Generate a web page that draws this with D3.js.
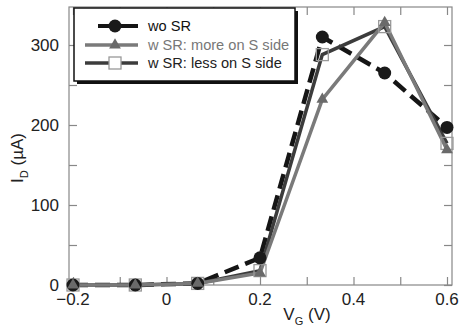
<!DOCTYPE html>
<html><head><meta charset="utf-8">
<script src="https://cdn.jsdelivr.net/npm/d3@7"></script>
<style>body{margin:0;background:#fff;}svg{display:block;font-family:"Liberation Sans",Arial,sans-serif;}</style>
</head><body><svg id="c" width="459" height="331"></svg>
<script>
const vg = [-0.2, -0.0667, 0.0667, 0.2, 0.3333, 0.4667, 0.6];
const woSR = [0, 0, 2, 34, 310, 265, 197];
const moreS = [0, 0, 2, 15, 232, 328, 169];
const lessS = [0, 0, 2, 18, 288, 323, 177];
const xTicks = [-0.2, -0.1, 0, 0.1, 0.2, 0.3, 0.4, 0.5, 0.6];
const xLabels = [-0.2, 0, 0.2, 0.4, 0.6];
const yTicks = [0, 50, 100, 150, 200, 250, 300];
const yLabels = [0, 100, 200, 300];
const legendNames = ["wo SR", "w SR: more on S side", "w SR: less on S side"];

const svg = d3.select("#c");
const L = 69, R = 452, T = 7, B = 285;
const x = d3.scaleLinear().domain([-0.20856, 0.6107]).range([L, R]);
const y = d3.scaleLinear().domain([0, 347.5]).range([B, T]);
const axisCol = "#888";

// frame
svg.append("rect").attr("x", L).attr("y", T).attr("width", R - L).attr("height", B - T)
  .attr("fill", "none").attr("stroke", axisCol).attr("stroke-width", 1.2);

// axes with inward ticks
const gB = svg.append("g").attr("transform", `translate(0,${B})`)
  .call(d3.axisTop(x).tickValues(xTicks).tickSize(8).tickFormat(""));
const gT = svg.append("g").attr("transform", `translate(0,${T})`)
  .call(d3.axisBottom(x).tickValues(xTicks).tickSize(8).tickFormat(""));
const gL = svg.append("g").attr("transform", `translate(${L},0)`)
  .call(d3.axisRight(y).tickValues(yTicks).tickSize(8).tickFormat(""));
const gR = svg.append("g").attr("transform", `translate(${R},0)`)
  .call(d3.axisLeft(y).tickValues(yTicks).tickSize(8).tickFormat(""));
[gB, gT, gL, gR].forEach(g => {
  g.select(".domain").remove();
  g.selectAll("line").attr("stroke", axisCol).attr("stroke-width", 1.2);
});

// tick labels
svg.append("g").selectAll("text").data(xLabels).join("text")
  .attr("x", d => x(d)).attr("y", 305).attr("text-anchor", "middle")
  .attr("font-size", 17).attr("fill", "#222").text(d => d === 0 ? "0" : d3.format(".1f")(d));
svg.append("g").selectAll("text").data(yLabels).join("text")
  .attr("x", 59).attr("y", d => y(d) + 6).attr("text-anchor", "end")
  .attr("font-size", 17).attr("fill", "#222").text(d => d);

// axis titles
const xt = svg.append("text").attr("x", 307).attr("y", 320).attr("text-anchor", "middle")
  .attr("font-size", 17).attr("fill", "#222");
xt.append("tspan").text("V");
xt.append("tspan").attr("font-size", 11).attr("dy", 5).text("G");
xt.append("tspan").attr("dy", -5).text(" (V)");
const yt = svg.append("text").attr("transform", "translate(23,158) rotate(-90)")
  .attr("text-anchor", "middle").attr("font-size", 17).attr("fill", "#222");
yt.append("tspan").text("I");
yt.append("tspan").attr("font-size", 11).attr("dy", 5).text("D");
yt.append("tspan").attr("dy", -5).text(" (\u00b5A)");

const line = d3.line().x((d, i) => x(vg[i])).y(d => y(d));
const plot = svg.append("g");

plot.append("path").datum(woSR).attr("d", line).attr("fill", "none")
  .attr("stroke", "#151515").attr("stroke-width", 4.5).attr("stroke-dasharray", "15,7");
plot.append("path").datum(lessS).attr("d", line).attr("fill", "none")
  .attr("stroke", "#3c3c3c").attr("stroke-width", 3.5);
plot.append("path").datum(moreS).attr("d", line).attr("fill", "none")
  .attr("stroke", "#7a7a7a").attr("stroke-width", 3.5);

const tri = d3.symbol().type(d3.symbolTriangle).size(60);
// markers
plot.append("g").selectAll("rect").data(lessS).join("rect")
  .attr("x", (d, i) => x(vg[i]) - 6).attr("y", d => y(d) - 6).attr("width", 12).attr("height", 12)
  .attr("fill", "none").attr("stroke", "#999").attr("stroke-width", 1.3);
plot.append("g").selectAll("circle").data(woSR).join("circle")
  .attr("cx", (d, i) => x(vg[i])).attr("cy", d => y(d)).attr("r", 6.5).attr("fill", "#1a1a1a");
plot.append("g").selectAll("path").data(moreS).join("path")
  .attr("transform", (d, i) => `translate(${x(vg[i])},${y(d)})`).attr("d", tri).attr("fill", "#6a6a6a");

// legend
const lg = svg.append("g");
lg.append("rect").attr("x", 77).attr("y", 11).attr("width", 221).attr("height", 73).attr("fill", "#111");
lg.append("rect").attr("x", 74).attr("y", 8).attr("width", 221).attr("height", 73)
  .attr("fill", "#fff").attr("stroke", "#111").attr("stroke-width", 1.5);
const rows = [26, 45, 63];
// wo SR
lg.append("line").attr("x1", 98).attr("x2", 138).attr("y1", rows[0]).attr("y2", rows[0])
  .attr("stroke", "#151515").attr("stroke-width", 4);
lg.append("circle").attr("cx", 115).attr("cy", rows[0]).attr("r", 6.5).attr("fill", "#1a1a1a");
// more
lg.append("line").attr("x1", 85).attr("x2", 138).attr("y1", rows[1]).attr("y2", rows[1])
  .attr("stroke", "#7a7a7a").attr("stroke-width", 3.5);
lg.append("path").attr("transform", `translate(115,${rows[1]})`).attr("d", tri).attr("fill", "#6a6a6a");
// less
lg.append("line").attr("x1", 85).attr("x2", 138).attr("y1", rows[2]).attr("y2", rows[2])
  .attr("stroke", "#3c3c3c").attr("stroke-width", 3.5);
lg.append("rect").attr("x", 109).attr("y", rows[2] - 6).attr("width", 12).attr("height", 12)
  .attr("fill", "#fff").attr("stroke", "#999").attr("stroke-width", 1.3);
const txtCol = ["#111", "#777", "#222"];
lg.selectAll("text").data(legendNames).join("text")
  .attr("x", 148).attr("y", (d, i) => rows[i] + 5).attr("font-size", 14.6)
  .attr("fill", (d, i) => txtCol[i]).text(d => d);
</script></body></html>
